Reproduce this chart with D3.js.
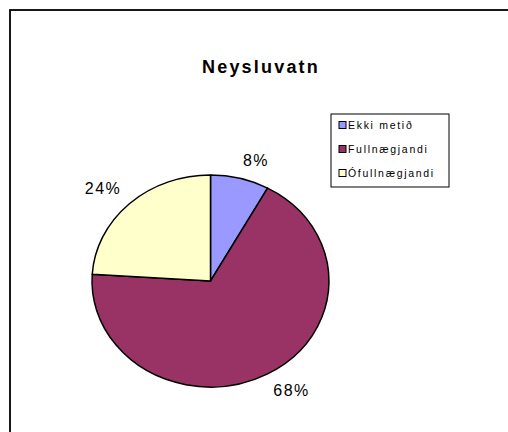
<!DOCTYPE html>
<meta charset="utf-8">
<style>
body { margin: 0; background: #fff; }
text { font-family: "Liberation Sans", Arial, sans-serif; fill: #000; }
</style>
<svg width="508" height="432"></svg>
<script src="https://cdn.jsdelivr.net/npm/d3@7"></script>
<script>

var categories = ["Ekki metið", "Fullnægjandi", "Ófullnægjandi"];
var values = [8, 68, 24];
var colors = ["#9999FF", "#993366", "#FFFFCC"];
var title = "Neysluvatn";

var svg = d3.select("svg");

// chart area frame (only top/left edges fall inside the picture)
svg.append("rect")
    .attr("x", 10)
    .attr("y", 10)
    .attr("width", 520)
    .attr("height", 440)
    .attr("fill", "none")
    .attr("stroke", "#000")
    .attr("stroke-width", 1.8);

svg.append("text")
    .attr("x", 261)
    .attr("y", 73)
    .attr("text-anchor", "middle")
    .style("font-size", "18px")
    .style("font-weight", "bold")
    .style("letter-spacing", "2.2px")
    .text(title);

var cx = 210.5, cy = 281,
    rx = 118.5, ry = 106;

var data = categories.map(function(c, i) {
  return {name: c, value: values[i], color: colors[i]};
});

var pie = d3.pie()
    .sort(null)
    .value(function(d) { return d.value; });

var arcs = pie(data);

var arc = d3.arc()
    .innerRadius(0)
    .outerRadius(rx);

var g = svg.append("g")
    .attr("transform", "translate(" + cx + "," + cy + ") scale(1," + (ry / rx) + ")");

g.selectAll("path")
  .data(arcs)
  .enter().append("path")
    .attr("d", arc)
    .attr("fill", function(d) { return d.data.color; })
    .attr("stroke", "#000")
    .attr("stroke-width", 1.5)
    .attr("stroke-linejoin", "round")
    .attr("vector-effect", "non-scaling-stroke");

// percent labels just outside the rim
var total = d3.sum(values);
var k = 1.1;
svg.selectAll(".label")
  .data(arcs)
  .enter().append("text")
    .attr("class", "label")
    .style("font-size", "16px")
    .style("letter-spacing", "1.5px")
    .each(function(d) {
      var a = (d.startAngle + d.endAngle) / 2,
          sx = Math.sin(a), cyy = -Math.cos(a);
      var x = cx + rx * k * sx,
          y = cy + ry * k * cyy;
      d3.select(this)
        .attr("x", x)
        .attr("y", y)
        .attr("text-anchor", sx >= 0 ? "start" : "end")
        .attr("dy", cyy < 0 ? "-0.1em" : "0.8em")
        .text(Math.round(d.data.value / total * 100) + "%");
    });

// legend
var legend = svg.append("g")
    .attr("transform", "translate(331,114)");

legend.append("rect")
    .attr("width", 118)
    .attr("height", 73)
    .attr("fill", "#fff")
    .attr("stroke", "#000")
    .attr("stroke-width", 1);

var item = legend.selectAll(".item")
  .data(data)
  .enter().append("g")
    .attr("class", "item")
    .attr("transform", function(d, i) { return "translate(8," + (11 + i * 24) + ")"; });

item.append("rect")
    .attr("x", 0)
    .attr("y", -3.5)
    .attr("width", 7)
    .attr("height", 7)
    .attr("fill", function(d) { return d.color; })
    .attr("stroke", "#000")
    .attr("stroke-width", 1);

item.append("text")
    .attr("x", 9)
    .attr("y", 4)
    .style("font-size", "10.5px")
    .style("letter-spacing", "1.7px")
    .text(function(d) { return d.name; });

</script>
